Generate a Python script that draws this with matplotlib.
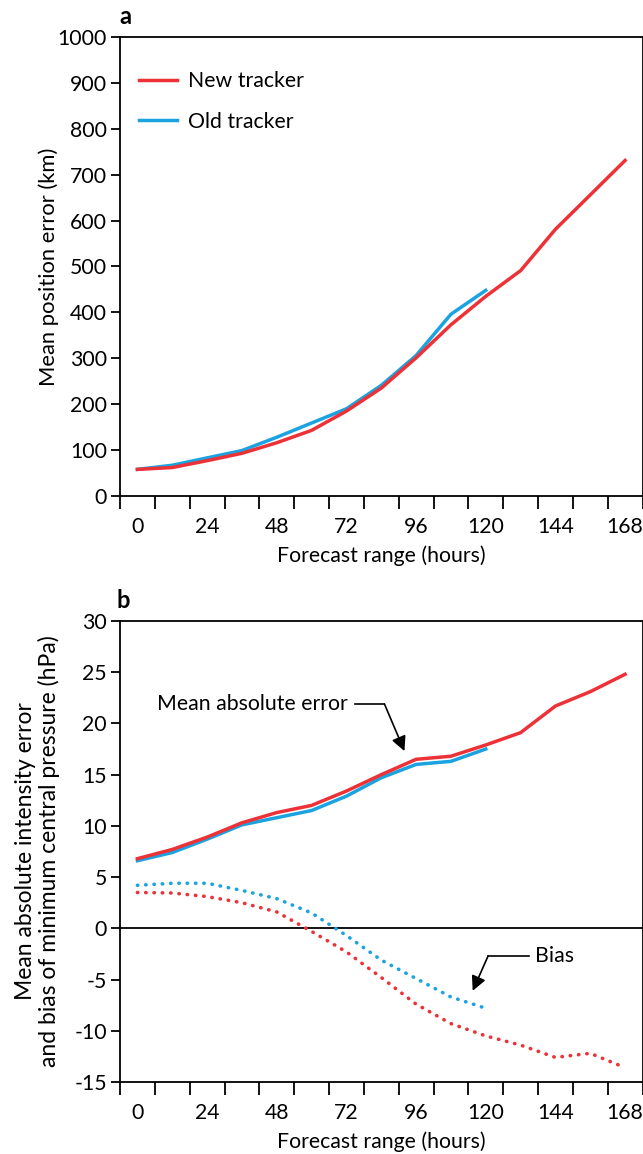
import matplotlib
matplotlib.use('Agg')
import matplotlib.pyplot as plt

plt.rcParams['font.family'] = ['Lato', 'DejaVu Sans']
plt.rcParams['font.size'] = 15.3
plt.rcParams['axes.unicode_minus'] = False
plt.rcParams['axes.linewidth'] = 1.3

# forecast hours
hours_new = [0, 12, 24, 36, 48, 60, 72, 84, 96, 108, 120, 132, 144, 156, 168]
hours_old = [0, 12, 24, 36, 48, 60, 72, 84, 96, 108, 120]

# panel a: mean position error (km)
pos_new = [58, 62, 77, 93, 116, 143, 185, 235, 301, 373, 435, 491, 581, 656, 731]
pos_old = [58, 67, 83, 99, 128, 159, 190, 241, 306, 396, 448]

# panel b: mean absolute intensity error and bias (hPa)
mae_new = [6.8, 7.7, 8.9, 10.3, 11.3, 12.0, 13.4, 15.0, 16.5, 16.8, 17.9, 19.1, 21.7, 23.1, 24.8]
mae_old = [6.6, 7.4, 8.7, 10.1, 10.8, 11.5, 12.9, 14.7, 16.0, 16.3, 17.5]
bias_new = [3.5, 3.45, 3.1, 2.5, 1.6, -0.3, -2.3, -4.8, -7.4, -9.3, -10.5, -11.4, -12.6, -12.2, -13.6]
bias_old = [4.2, 4.4, 4.4, 3.7, 2.9, 1.5, -0.7, -3.1, -4.9, -6.7, -7.8]

label_hours = [0, 24, 48, 72, 96, 120, 144, 168]
edge_hours = list(range(-6, 175, 12))

red = '#ED3237'
blue = '#1AA3E0'
lw = 2.5
dots = (0, (0.1, 2.2))

fig = plt.figure(figsize=(6.43, 11.54), dpi=100)
ax1 = fig.add_axes([120 / 643, 1 - 496 / 1154, 522.5 / 643, 459 / 1154])
ax2 = fig.add_axes([120 / 643, 1 - 1082 / 1154, 522.5 / 643, 461 / 1154])


def setup_x(ax):
    ax.set_xlim(-6, 174)
    ax.set_xticks(edge_hours)
    ax.set_xticklabels([])
    ax.set_xticks(label_hours, minor=True)
    ax.set_xticklabels([str(h) for h in label_hours], minor=True)
    ax.tick_params(axis='x', which='major', direction='out', length=9.5, width=1.3)
    ax.tick_params(axis='x', which='minor', length=0, pad=15)
    ax.tick_params(axis='y', direction='out', length=6.5, width=1.3, pad=3)
    ax.set_xlabel('Forecast range (hours)', labelpad=6)


# panel a
ax1.plot(hours_old, pos_old, color=blue, lw=lw, label='Old tracker')
ax1.plot(hours_new, pos_new, color=red, lw=lw, label='New tracker')
ax1.set_ylim(0, 1000)
ax1.set_yticks(range(0, 1001, 100))
setup_x(ax1)
ax1.set_ylabel('Mean position error (km)', fontsize=15.8)
ax1.yaxis.set_label_coords(-0.117, 0.5)
handles, labels = ax1.get_legend_handles_labels()
ax1.legend(handles[::-1], labels[::-1], loc='upper left', bbox_to_anchor=(0.036, 0.925),
           frameon=False, borderpad=0, borderaxespad=0, handlelength=1.8,
           handletextpad=0.5, labelspacing=0.95)

# panel b
ax2.axhline(0, color='black', lw=1.3)
ax2.plot(hours_old, mae_old, color=blue, lw=lw)
ax2.plot(hours_new, mae_new, color=red, lw=lw)
ax2.plot(hours_old, bias_old, color=blue, lw=2.6, linestyle=dots, dash_capstyle='round')
ax2.plot(hours_new, bias_new, color=red, lw=2.6, linestyle=dots, dash_capstyle='round')
ax2.set_ylim(-15, 30)
ax2.set_yticks(range(-15, 31, 5))
setup_x(ax2)
ax2.set_ylabel('Mean absolute intensity error\nand bias of minimum central pressure (hPa)',
               fontsize=16.5, linespacing=1.1)
ax2.yaxis.set_label_coords(-0.115, 0.5)

# annotations
ax2.text(6.8, 21.9, 'Mean absolute error', ha='left', va='center')
ax2.plot([74.8, 85.1], [21.9, 21.9], color='black', lw=1.2)
ax2.annotate('', xy=(92.0, 17.3), xytext=(85.1, 21.9),
             arrowprops=dict(arrowstyle='-|>', color='black', lw=1.2,
                             mutation_scale=22, shrinkA=0, shrinkB=0))
ax2.text(137.0, -2.7, 'Bias', ha='left', va='center')
ax2.plot([120.8, 134.9], [-2.7, -2.7], color='black', lw=1.2)
ax2.annotate('', xy=(115.5, -6.1), xytext=(120.8, -2.7),
             arrowprops=dict(arrowstyle='-|>', color='black', lw=1.2,
                             mutation_scale=22, shrinkA=0, shrinkB=0))

fig.text(125 / 643, 1 - 17 / 1154, 'a', fontsize=17, fontweight='bold', ha='center', va='center')
fig.text(123 / 643, 1 - 600 / 1154, 'b', fontsize=17, fontweight='bold', ha='center', va='center')

fig.savefig('out.png', dpi=100)
